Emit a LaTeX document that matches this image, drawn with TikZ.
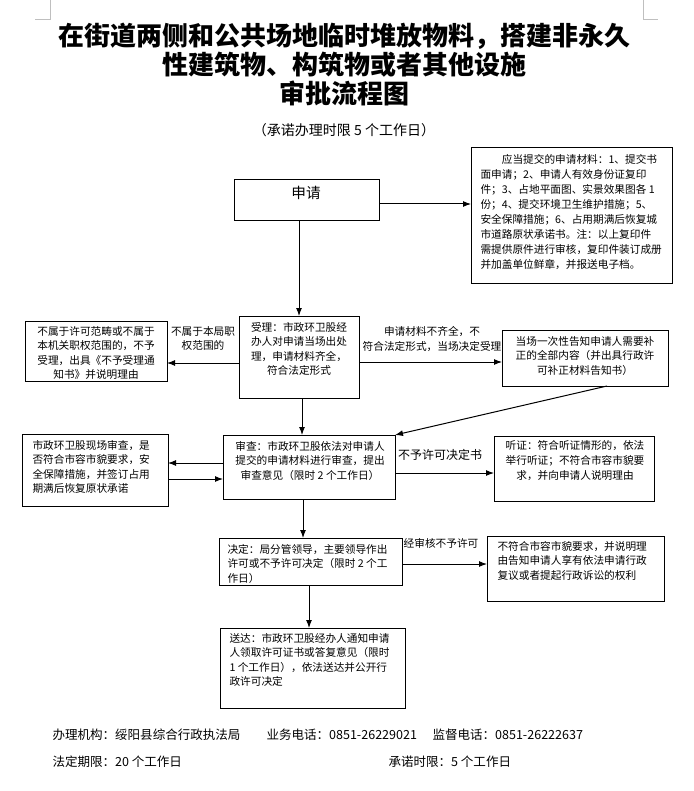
\documentclass[tikz,border=0pt]{standalone}
\usepackage{fontspec}
\setmainfont{Noto Sans CJK SC}
\usetikzlibrary{arrows.meta}

\tikzset{every picture/.style={line width=0.75pt}}
\tikzset{
  box/.style={draw, inner sep=0pt, outer sep=0pt, anchor=north west},
  boxtext/.style={inner sep=0pt, font=\fontsize{8}{10.8}\selectfont},
  arr/.style={-{Latex[length=6pt,width=4.5pt]}},
  foot/.style={inner sep=0pt, anchor=west, font=\fontsize{9.4}{11}\selectfont},
}

\begin{document}
\begin{tikzpicture}[x=0.75pt,y=0.75pt,yscale=-1,xscale=1]
\useasboundingbox (0,0) rectangle (693,791);

%Corner marks
\draw [color={rgb, 255:red, 191; green, 191; blue, 191 }] (35,20) -- (50,20) -- (50,0) ;
\draw [color={rgb, 255:red, 191; green, 191; blue, 191 }] (643,0) -- (643,20) -- (658,20) ;

% Title
\node [inner sep=0pt, align=center, font=\fontsize{19.5}{21.75}\selectfont\bfseries] (title) at (344,65) {在街道两侧和公共场地临时堆放物料，搭建非永久\\性建筑物、构筑物或者其他设施\\审批流程图};
\node [inner sep=0pt, font=\fontsize{10.5}{12}\selectfont] (subtitle) at (344,130) {（承诺办理时限 5 个工作日）};

%Shape: Rectangle
\node [box, minimum width=108.75pt, minimum height=30.75pt] (shenqing) at (234,180) {};
\node [box, minimum width=150.75pt, minimum height=101.25pt] (cailiao) at (471,148) {};
\node [box, minimum width=106.5pt, minimum height=45pt] (buyu) at (25,321) {};
\node [box, minimum width=90pt, minimum height=61.5pt] (shouli) at (239,316) {};
\node [box, minimum width=124.5pt, minimum height=42pt] (gaozhi) at (502,330) {};
\node [box, minimum width=109.5pt, minimum height=54pt] (xianchang) at (22,434) {};
\node [box, minimum width=129pt, minimum height=48pt] (shencha) at (223,435) {};
\node [box, minimum width=120pt, minimum height=48.75pt] (tingzheng) at (494,436) {};
\node [box, minimum width=137.25pt, minimum height=35.25pt] (jueding) at (219,538) {};
\node [box, minimum width=132.75pt, minimum height=48.75pt] (bufuhe) at (487,536) {};
\node [box, minimum width=138.75pt, minimum height=60pt] (songda) at (220,628) {};

% Text Node
\node [inner sep=0pt, font=\fontsize{11}{13}\selectfont] (shenqingtxt) at (306,193) {申请};
% Text Node
\node [boxtext, align=left, anchor=north west, font=\fontsize{8}{11.25}\selectfont] (cailiaotxt) at (480,154) {\hspace*{2em}应当提交的申请材料：1、提交书\\面申请；2、申请人有效身份证复印\\件；3、占地平面图、实景效果图各 1\\份；4、提交环境卫生维护措施；5、\\安全保障措施；6、占用期满后恢复城\\市道路原状承诺书。注：以上复印件\\需提供原件进行审核，复印件装订成册\\并加盖单位鲜章，并报送电子档。};
% Text Node
\node [boxtext, align=center, anchor=north] (buyutxt) at (96,326) {不属于许可范畴或不属于\\本机关职权范围的，不予\\受理，出具《不予受理通\\知书》并说明理由};
% Text Node
\node [boxtext, align=center, anchor=north] (label1) at (203,326) {不属于本局职\\权范围的};
% Text Node
\node [boxtext, align=center, anchor=north] (shoulitxt) at (299,322) {受理：市政环卫股经\\办人对申请当场出处\\理，申请材料齐全，\\符合法定形式};
% Text Node
\node [boxtext, align=center, anchor=north, font=\fontsize{8}{11.25}\selectfont] (label2) at (432,326) {申请材料不齐全，不\\符合法定形式，当场决定受理};
% Text Node
\node [boxtext, align=center, anchor=north] (gaozhitxt) at (585,336) {当场一次性告知申请人需要补\\正的全部内容（并出具行政许\\可补正材料告知书）};
% Text Node
\node [boxtext, align=left, anchor=north west] (xianchangtxt) at (32,440) {市政环卫股现场审查，是\\否符合市容市貌要求，安\\全保障措施，并签订占用\\期满后恢复原状承诺};
% Text Node
\node [boxtext, align=center, anchor=north] (shenchatxt) at (310,441) {审查：市政环卫股依法对申请人\\提交的申请材料进行审查，提出\\审查意见（限时 2 个工作日）};
% Text Node
\node [inner sep=0pt, font=\fontsize{9}{11}\selectfont] (label3) at (440,455) {不予许可决定书};
% Text Node
\node [boxtext, align=center, anchor=north, font=\fontsize{8}{11.25}\selectfont] (tingzhengtxt) at (575,440) {听证：符合听证情形的，依法\\举行听证；不符合市容市貌要\\求，并向申请人说明理由};
% Text Node
\node [boxtext, align=left, anchor=north west] (juedingtxt) at (227,544) {决定：局分管领导，主要领导作出\\许可或不予许可决定（限时 2 个工\\作日）};
% Text Node
\node [boxtext] (label4) at (441,543) {经审核不予许可};
% Text Node
\node [boxtext, align=left, anchor=north west] (bufuhetxt) at (497,541) {不符合市容市貌要求，并说明理\\由告知申请人享有依法申请行政\\复议或者提起行政诉讼的权利};
% Text Node
\node [boxtext, align=left, anchor=north west] (songdatxt) at (229,633) {送达：市政环卫股经办人通知申请\\人领取许可证书或答复意见（限时\\1 个工作日），依法送达并公开行\\政许可决定};

%Straight Lines
\draw [arr] (shenqing.east |- 0,204) -- (cailiao.west |- 0,204) ;
\draw [arr] (shenqing.south -| shouli.north) -- (shouli.north) ;
\draw [arr] (shouli.west |- 0,363) -- (buyu.east |- 0,363) ;
\draw [arr] (shouli.east |- 0,362) -- (gaozhi.west |- 0,362) ;
\draw [arr] (gaozhi.south -| 607,0) -- (shencha.north east) ;
\draw [arr] (shouli.south -| 302,0) -- (shencha.north -| 302,0) ;
\draw [arr] (shencha.west |- 0,463) -- (xianchang.east |- 0,463) ;
\draw [arr] (xianchang.east |- 0,479) -- (shencha.west |- 0,479) ;
\draw [arr] (shencha.east |- 0,473) -- (tingzheng.west |- 0,473) ;
\draw [arr] (shencha.south -| 303,0) -- (jueding.north -| 303,0) ;
\draw [arr] (jueding.east |- 0,564) -- (bufuhe.west |- 0,564) ;
\draw [arr] (jueding.south -| 309,0) -- (songda.north -| 309,0) ;

% Footer
\node [foot] (jigou) at (52,735) {办理机构：绥阳县综合行政执法局};
\node [foot] (yewu) at (266,735) {业务电话：0851-26229021};
\node [foot] (jiandu) at (432,735) {监督电话：0851-26222637};
\node [foot] (fading) at (52,762) {法定期限：20 个工作日};
\node [foot] (chengnuo) at (388,762) {承诺时限：5 个工作日};

\end{tikzpicture}
\end{document}
